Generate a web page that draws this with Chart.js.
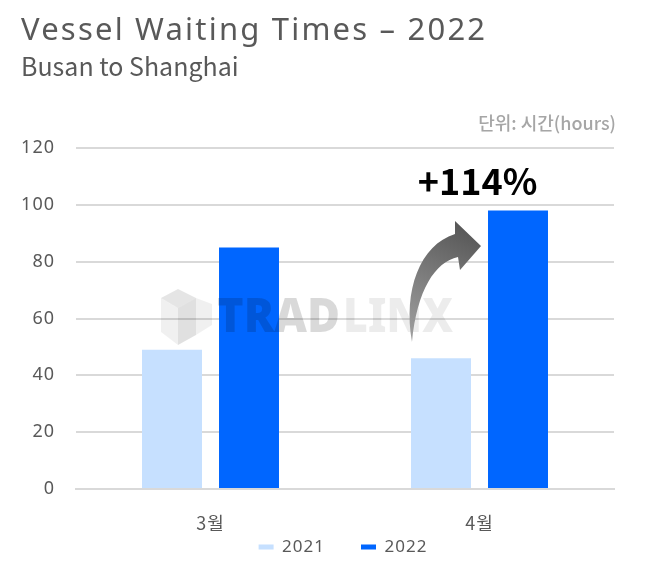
<!DOCTYPE html>
<html>
<head>
<meta charset="utf-8">
<script src="https://cdn.jsdelivr.net/npm/chart.js@4"></script>
<style>
    html, body { margin: 0; padding: 0; background: #fff; }
    #wrap { position: relative; width: 653px; height: 570px; overflow: hidden; font-family: "Noto Sans", "Noto Sans CJK KR", sans-serif; }
    #chart { position: absolute; left: 0; top: 0; }
    .label { position: absolute; white-space: nowrap; line-height: 1; }
    #title { left: 21px; top: 13px; font-size: 31px; letter-spacing: 2.2px; color: #595959; }
    #subtitle { left: 21px; top: 53px; font-size: 25px; color: #595959; font-family: "Noto Sans CJK KR", sans-serif; }
    #unit { right: 37px; top: 113px; font-size: 18px; font-weight: 500; color: #a6a6a6; font-family: "Noto Sans CJK KR", sans-serif; }
</style>
</head>
<body>
<div id="wrap">
    <canvas id="chart" width="653" height="570"></canvas>
    <div class="label" id="title">Vessel Waiting Times – 2022</div>
    <div class="label" id="subtitle">Busan to Shanghai</div>
    <div class="label" id="unit">단위: 시간(hours)</div>
</div>
<script>
const categories = ['3월', '4월'];
const values2021 = [49, 46];
const values2022 = [85, 98];
const yTicks = [0, 20, 40, 60, 80, 100, 120];
const changeLabel = '+114%';

// Ticks and legend have a little tracking in the original
const trackingPlugin = {
    id: 'tracking',
    beforeDraw(chart) {
        chart.ctx.letterSpacing = '1px';
    }
};

// The legend sits closer to the axis and further right than the layout puts it
const legendShiftPlugin = {
    id: 'legendShift',
    afterLayout(chart) {
        const legend = chart.legend;
        legend.top -= 32.5;
        legend.bottom -= 32.5;
        legend.left += 22;
        legend.right += 22;
    }
};

// Draws the watermark and the growth arrow on top of the bars
const overlayPlugin = {
    id: 'overlay',
    afterDatasetsDraw(chart) {
        const ctx = chart.ctx;
        ctx.save();
        ctx.letterSpacing = '0px';

        // cube
        ctx.fillStyle = 'rgba(0,0,0,0.06)';
        poly(ctx, [[161, 298], [178, 308], [178, 345], [161, 332]]);
        poly(ctx, [[196, 298], [212, 304], [212, 325], [196, 335]]);
        ctx.fillStyle = 'rgba(0,0,0,0.12)';
        poly(ctx, [[178, 308], [196, 298], [196, 335], [178, 345]]);
        ctx.fillStyle = 'rgba(0,0,0,0.1)';
        poly(ctx, [[178, 289], [196, 298], [178, 308], [161, 298]]);

        // logo text, the first half is darker than the second
        ctx.font = '900 47px "Noto Sans", sans-serif';
        ctx.textBaseline = 'alphabetic';
        ctx.fillStyle = 'rgba(0,0,0,0.15)';
        ctx.fillText('TRAD', 217, 332, 123);
        ctx.fillStyle = 'rgba(0,0,0,0.075)';
        ctx.fillText('LINX', 343, 332, 110);

        // arrow
        const grad = ctx.createLinearGradient(412, 342, 470, 225);
        grad.addColorStop(0, '#a0a0a0');
        grad.addColorStop(0.45, '#808080');
        grad.addColorStop(1, '#555555');
        ctx.fillStyle = grad;
        ctx.beginPath();
        ctx.moveTo(412, 342);
        ctx.bezierCurveTo(403, 290, 420, 245, 455, 234);
        ctx.lineTo(455, 221);
        ctx.lineTo(481, 246);
        ctx.lineTo(460, 270);
        ctx.lineTo(458, 257);
        ctx.bezierCurveTo(435, 262, 417, 290, 412, 342);
        ctx.closePath();
        ctx.fill();

        // change label, placed over the 2022 bar of the last month
        ctx.font = '700 36px "Noto Sans CJK KR", sans-serif';
        ctx.fillStyle = '#000';
        ctx.textAlign = 'center';
        const x = chart.scales.x.getPixelForValue(1);
        const y = chart.scales.y.getPixelForValue(100);
        ctx.fillText(changeLabel, x - 2, y - 10);
        ctx.restore();
    }
};

function poly(ctx, points) {
    ctx.beginPath();
    points.forEach(([px, py], i) => {
        if (i === 0) ctx.moveTo(px, py);
        else ctx.lineTo(px, py);
    });
    ctx.closePath();
    ctx.fill();
}

new Chart(document.getElementById('chart').getContext('2d'), {
    type: 'bar',
    data: {
        labels: categories,
        datasets: [{
            label: '2021',
            data: values2021,
            backgroundColor: '#c6e0ff',
            borderWidth: 0,
            categoryPercentage: 0.5725,
            barPercentage: 0.779
        }, {
            label: '2022',
            data: values2022,
            backgroundColor: '#0066ff',
            borderWidth: 0,
            categoryPercentage: 0.5725,
            barPercentage: 0.779
        }]
    },
    options: {
        responsive: false,
        animation: false,
        devicePixelRatio: 1,
        layout: { padding: { top: 148, right: 39, left: 20, bottom: -28 } },
        plugins: {
            legend: {
                position: 'bottom',
                labels: {
                    boxWidth: 15,
                    boxHeight: 5,
                    padding: 36,
                    color: '#595959',
                    font: { family: '"Noto Sans", sans-serif', size: 17 }
                }
            },
            tooltip: { enabled: false }
        },
        scales: {
            x: {
                afterFit: axis => { axis.height = 46; },
                grid: { display: false },
                border: { color: '#d9d9d9', width: 2 },
                ticks: {
                    color: '#595959',
                    padding: 15,
                    font: { family: '"Noto Sans CJK KR", sans-serif', size: 18 }
                }
            },
            y: {
                min: 0,
                max: 120,
                afterBuildTicks: axis => { axis.ticks = yTicks.map(value => ({ value })); },
                afterFit: axis => { axis.width = 56; },
                grid: { color: '#d9d9d9', lineWidth: 2, drawTicks: false },
                border: { display: false },
                ticks: {
                    color: '#595959',
                    padding: 21,
                    font: { family: '"Noto Sans", sans-serif', size: 18 }
                }
            }
        }
    },
    plugins: [trackingPlugin, legendShiftPlugin, overlayPlugin]
});
</script>
</body>
</html>
